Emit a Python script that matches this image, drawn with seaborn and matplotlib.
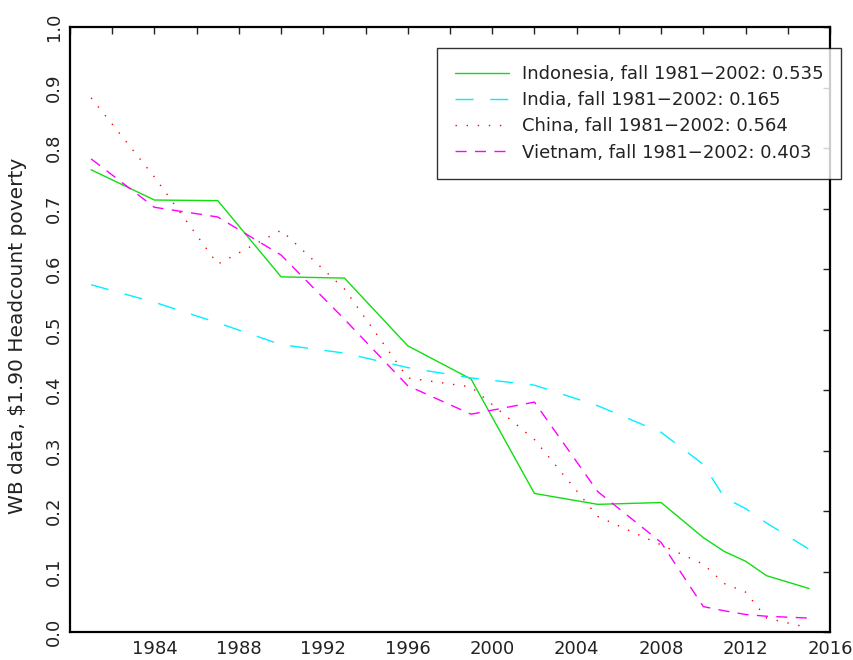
import matplotlib
matplotlib.use('Agg')
import matplotlib.pyplot as plt
import seaborn as sns
import pandas as pd

# WB $1.90 headcount poverty
years = [1981, 1984, 1987, 1990, 1993, 1996, 1999, 2002, 2005, 2008,
         2010, 2011, 2012, 2013, 2015]
indonesia = [0.764, 0.714, 0.713, 0.587, 0.585, 0.473, 0.418, 0.229, 0.211, 0.214,
             0.156, 0.133, 0.117, 0.093, 0.072]
india = [0.574, 0.545, 0.511, 0.475, 0.461, 0.437, 0.420, 0.408, 0.374, 0.330,
         0.277, 0.222, 0.204, 0.180, 0.137]
china = [0.883, 0.752, 0.608, 0.664, 0.567, 0.420, 0.405, 0.318, 0.191, 0.144,
         0.112, 0.080, 0.066, 0.023, 0.007]
vietnam = [0.782, 0.702, 0.686, 0.623, 0.517, 0.407, 0.360, 0.380, 0.232, 0.148,
           0.042, 0.035, 0.029, 0.026, 0.023]

labels = ["Indonesia, fall 1981\u22122002: 0.535",
          "India, fall 1981\u22122002: 0.165",
          "China, fall 1981\u22122002: 0.564",
          "Vietnam, fall 1981\u22122002: 0.403"]
colors = ["#11dd11", "#00f0ff", "#ff0000", "#ff00ff"]
dash_styles = [None, (13, 12), (1, 7), (8, 6)]

x_ticks = list(range(1980, 2017, 2))
x_labels = [str(y) if y % 4 == 0 and y > 1980 else "" for y in x_ticks]
y_ticks = [i / 10 for i in range(11)]

sns.set_style("white")
plt.rcParams['font.family'] = ['DejaVu Sans']
txt = "#222222"

fig = plt.figure(figsize=(8.54, 6.6), dpi=100)
ax = fig.add_axes([70 / 854, 28 / 660, 760 / 854, 605 / 660])

series = [indonesia, india, china, vietnam]
for vals, lab, col, dsh in zip(series, labels, colors, dash_styles):
    df = pd.DataFrame({"year": years, "value": vals})
    sns.lineplot(data=df, x="year", y="value", ax=ax, color=col, label=lab,
                 linewidth=1.0)
    if dsh is not None:
        ax.lines[-1].set_dashes(dsh)

ax.set_xlim(1980, 2016)
ax.set_ylim(0, 1.0)
ax.set_xticks(x_ticks)
ax.set_xticklabels(x_labels)
ax.set_yticks(y_ticks)
ax.set_yticklabels([f"{v:.1f}" for v in y_ticks], rotation=90, va="center")
ax.tick_params(direction="in", length=5, width=1, color="#222222",
               top=True, right=True, labelsize=13, labelcolor=txt)
ax.tick_params(axis="x", pad=6)
ax.tick_params(axis="y", pad=5)
for s in ax.spines.values():
    s.set_linewidth(1.6)
    s.set_color("black")

ax.set_xlabel("")
ax.set_ylabel("WB data, $1.90 Headcount poverty", fontsize=14.5, color=txt)
ax.yaxis.set_label_coords(-0.057, 0.49)

leg = ax.legend(loc="upper right", bbox_to_anchor=(841 / 854, 1 - 48 / 660),
                bbox_transform=fig.transFigure, fontsize=13, frameon=True,
                fancybox=False, edgecolor="black", handlelength=3.0,
                handletextpad=0.75, labelspacing=0.45, borderpad=0.95,
                borderaxespad=0)
leg.get_frame().set_linewidth(1.0)
for t in leg.get_texts():
    t.set_color(txt)

fig.savefig("out.png", dpi=100)
